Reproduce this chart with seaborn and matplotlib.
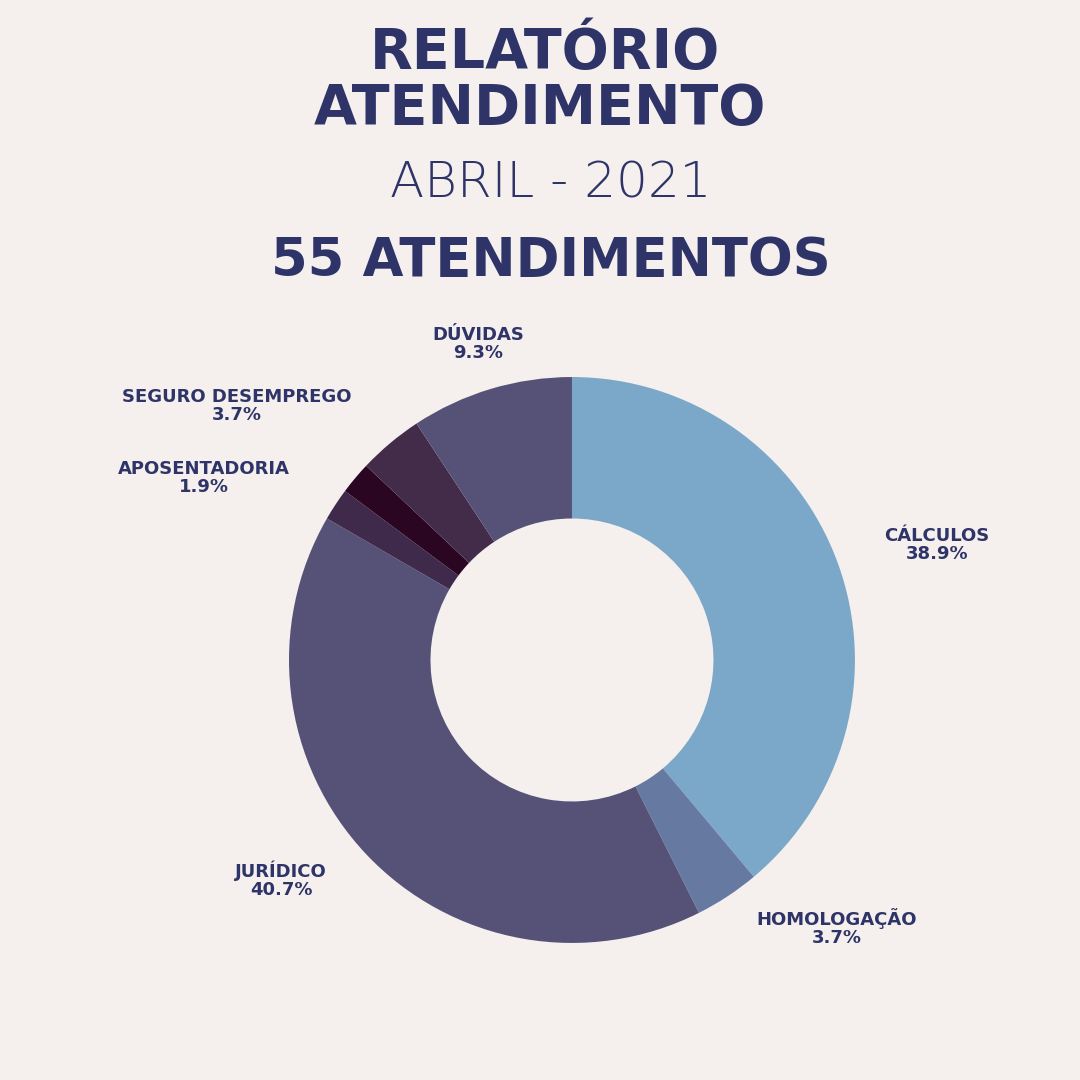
import matplotlib
matplotlib.use("Agg")
import matplotlib.pyplot as plt
import seaborn as sns

sns.set_theme(style="white")
plt.rcParams['font.family'] = ['DejaVu Sans']

# data (slices clockwise from top)
categories = ['CÁLCULOS', 'HOMOLOGAÇÃO', 'JURÍDICO', '', 'APOSENTADORIA', 'SEGURO DESEMPREGO', 'DÚVIDAS']
counts = [21, 2, 22, 1, 1, 2, 5]
shown_pct = ['38.9%', '3.7%', '40.7%', '', '1.9%', '3.7%', '9.3%']
colors = ['#7BA7C8', '#6679A1', '#565277', '#3F2A4C', '#2B0622', '#432B4A', '#565277']

bg = '#F5F0EE'
navy = '#2E3468'

fig = plt.figure(figsize=(10.8, 10.8), dpi=100, facecolor=bg)
ax = fig.add_axes([0.2676, 0.1269, 0.524, 0.524])
ax.set_facecolor(bg)
ax.pie(counts, colors=colors, startangle=90, counterclock=False, radius=1,
       wedgeprops=dict(width=0.5, linewidth=0))
ax.set_xlim(-1, 1)
ax.set_ylim(-1, 1)
ax.set_aspect('equal')
ax.axis('off')

# titles
fig.text(0.505, 0.951, 'RELATÓRIO', ha='center', va='center', fontsize=40,
         fontweight='heavy', color=navy)
fig.text(0.50, 0.899, 'ATENDIMENTO', ha='center', va='center', fontsize=40,
         fontweight='heavy', color=navy)
fig.text(0.51, 0.830, 'ABRIL - 2021', ha='center', va='center', fontsize=36,
         color=navy, fontweight='light')
fig.text(0.51, 0.758, '55 ATENDIMENTOS', ha='center', va='center', fontsize=38,
         fontweight='bold', color=navy)

# labels (pixel centres)
label_pos = {
    'CÁLCULOS': (937, 545),
    'HOMOLOGAÇÃO': (837, 928),
    'JURÍDICO': (281, 880),
    'APOSENTADORIA': (204, 478),
    'SEGURO DESEMPREGO': (237, 406),
    'DÚVIDAS': (478, 344),
}
for cat, pct in zip(categories, shown_pct):
    if cat in label_pos:
        x, y = label_pos[cat]
        fig.text(x / 1080, 1 - y / 1080, f'{cat}\n{pct}', ha='center', va='center',
                 fontsize=13, fontweight='bold', color=navy, linespacing=1.0)

fig.savefig('out.png', dpi=100, facecolor=bg)
